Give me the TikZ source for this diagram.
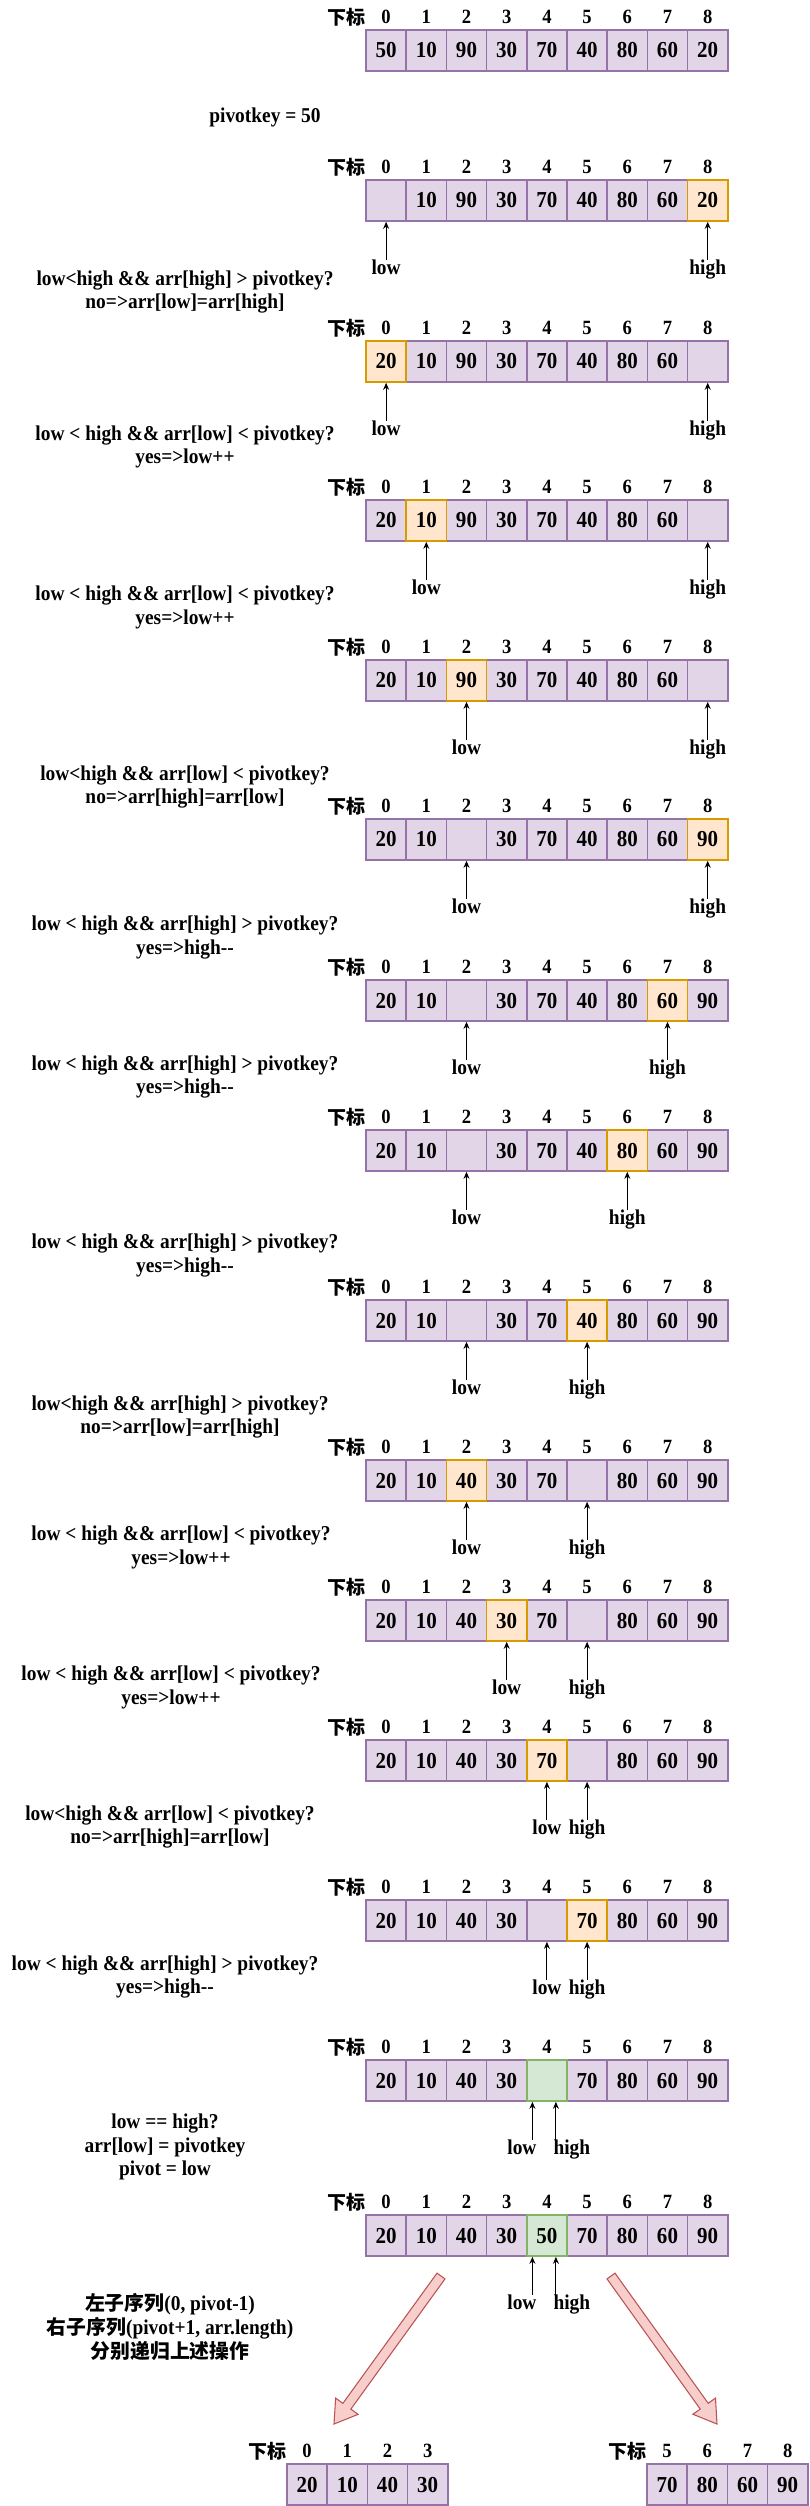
\documentclass[tikz,border=0pt]{standalone}
\usepackage{fontspec}
\setmainfont{Liberation Serif}[FakeStretch=0.92]
\newfontfamily\cjk{Noto Sans CJK SC}[Scale=0.94]
\usepackage{xcolor}
\usepackage{tikz}
\usetikzlibrary{arrows.meta, positioning, calc}

\definecolor{pfill}{HTML}{E1D5E7}
\definecolor{pdraw}{HTML}{9673A6}
\definecolor{ofill}{HTML}{FFE6CC}
\definecolor{odraw}{HTML}{D79B00}
\definecolor{gfill}{HTML}{D5E8D4}
\definecolor{gdraw}{HTML}{82B366}
\definecolor{rfill}{HTML}{F8CECC}
\definecolor{rdraw}{HTML}{B85450}

\tikzset{
  pcell/.style={draw=pdraw, fill=pfill, line width=0.9pt, minimum width=0.804cm,
    minimum height=0.82cm, inner sep=0pt, font=\fontsize{13}{15}\selectfont\bfseries},
  ocell/.style={pcell, draw=odraw, fill=ofill},
  gcell/.style={pcell, draw=gdraw, fill=gfill},
  idx/.style={inner sep=0pt, font=\fontsize{11.5}{13}\selectfont\bfseries},
  plabel/.style={inner sep=0pt, font=\fontsize{12}{14}\selectfont\bfseries},
  ptr/.style={line width=0.6pt, -{Stealth[length=4pt,width=3.4pt]}},
  note/.style={align=center, font=\fontsize{12}{13.6}\selectfont\bfseries},
  bigarr/.style={draw=rdraw, fill=rfill, line width=0.6pt},
}

% one array: name, left x, top y, first index, values, marked cell, its style
\newcommand{\sortrow}[7]{%
  \node[idx, anchor=east] (#1-xb) at (#2,#3-13) {\cjk 下标};
  \foreach \v [count=\ci from 0] in {#5} {
    \node[idx] (#1-i\ci) at (#2+20.1+40.2*\ci,#3-13) {\the\numexpr\ci+#4\relax};
    \ifnum\ci=#6\relax\else\node[pcell] (#1-\ci) at (#2+20.1+40.2*\ci,#3+20.5) {\v};\fi
  }
  \foreach \v [count=\ci from 0] in {#5} {
    \ifnum\ci=#6\relax\node[#7] (#1-\ci) at (#2+20.1+40.2*\ci,#3+20.5) {\v};\fi
  }
}
% low / high pointers under two cells
\newcommand{\ptrs}[3]{%
  \node[plabel, below=0.76cm of #1-#2] (#1-lo) {low};
  \node[plabel, below=0.76cm of #1-#3] (#1-hi) {high};
  \draw[ptr] (#1-lo) -- (#1-#2);
  \draw[ptr] (#1-hi) -- (#1-#3);
}

\begin{document}
\begin{tikzpicture}[x=0.02cm, y=-0.02cm]
\useasboundingbox (0,0) rectangle (809,2506);

% Start
\sortrow{r0}{366}{29.8}{0}{50,10,90,30,70,40,80,60,20}{-1}{pcell}
\node[note] (s0) at (265,117) {pivotkey = 50};

% Pasul 1
\sortrow{r1}{366}{180}{0}{{},10,90,30,70,40,80,60,20}{8}{ocell}
\ptrs{r1}{0}{8}
\node[note] (s1) at (185,292) {low<high \&\& arr[high] > pivotkey?\\no=>arr[low]=arr[high]};

% Pasul 2
\sortrow{r2}{366}{341}{0}{20,10,90,30,70,40,80,60,{}}{0}{ocell}
\ptrs{r2}{0}{8}
\node[note] (s2) at (185,447) {low < high \&\& arr[low] < pivotkey?\\yes=>low++};

% Pasul 3
\sortrow{r3}{366}{500}{0}{20,10,90,30,70,40,80,60,{}}{1}{ocell}
\ptrs{r3}{1}{8}
\node[note] (s3) at (185,607) {low < high \&\& arr[low] < pivotkey?\\yes=>low++};

% Pasul 4
\sortrow{r4}{366}{660}{0}{20,10,90,30,70,40,80,60,{}}{2}{ocell}
\ptrs{r4}{2}{8}
\node[note] (s4) at (185,787) {low<high \&\& arr[low] < pivotkey?\\no=>arr[high]=arr[low]};

% Pasul 5
\sortrow{r5}{366}{819}{0}{20,10,{},30,70,40,80,60,90}{8}{ocell}
\ptrs{r5}{2}{8}
\node[note] (s5) at (185,937.5) {low < high \&\& arr[high] > pivotkey?\\yes=>high-{}-};

% Pasul 6
\sortrow{r6}{366}{980}{0}{20,10,{},30,70,40,80,60,90}{7}{ocell}
\ptrs{r6}{2}{7}
\node[note] (s6) at (185,1077) {low < high \&\& arr[high] > pivotkey?\\yes=>high-{}-};

% Pasul 7
\sortrow{r7}{366}{1130}{0}{20,10,{},30,70,40,80,60,90}{6}{ocell}
\ptrs{r7}{2}{6}
\node[note] (s7) at (185,1255.5) {low < high \&\& arr[high] > pivotkey?\\yes=>high-{}-};

% Pasul 8
\sortrow{r8}{366}{1300}{0}{20,10,{},30,70,40,80,60,90}{5}{ocell}
\ptrs{r8}{2}{5}
\node[note] (s8) at (180,1417) {low<high \&\& arr[high] > pivotkey?\\no=>arr[low]=arr[high]};

% Pasul 9
\sortrow{r9}{366}{1460}{0}{20,10,40,30,70,{},80,60,90}{2}{ocell}
\ptrs{r9}{2}{5}
\node[note] (s9) at (181,1547) {low < high \&\& arr[low] < pivotkey?\\yes=>low++};

% Pasul 10
\sortrow{r10}{366}{1600}{0}{20,10,40,30,70,{},80,60,90}{3}{ocell}
\ptrs{r10}{3}{5}
\node[note] (s10) at (171,1687) {low < high \&\& arr[low] < pivotkey?\\yes=>low++};

% Pasul 11
\sortrow{r11}{366}{1740}{0}{20,10,40,30,70,{},80,60,90}{4}{ocell}
\ptrs{r11}{4}{5}
\node[note] (s11) at (170,1827) {low<high \&\& arr[low] < pivotkey?\\no=>arr[high]=arr[low]};

% Pasul 12
\sortrow{r12}{366}{1900}{0}{20,10,40,30,{},70,80,60,90}{5}{ocell}
\ptrs{r12}{4}{5}
\node[note] (s12) at (165,1977) {low < high \&\& arr[high] > pivotkey?\\yes=>high-{}-};

% low == high
\sortrow{r13}{366}{2060}{0}{20,10,40,30,{},70,80,60,90}{4}{gcell}
\node[plabel, below=0.76cm of r13-4, xshift=-0.5cm] (r13-lo) {low};
\node[plabel, below=0.76cm of r13-4, xshift=0.5cm] (r13-hi) {high};
\draw[ptr] ([xshift=0.21cm]r13-lo.north) -- ([xshift=0.21cm]r13-lo.north |- r13-4.south);
\draw[ptr] ([xshift=-0.32cm]r13-hi.north) -- ([xshift=-0.32cm]r13-hi.north |- r13-4.south);
\node[note] (s13) at (165,2147) {low == high?\\arr[low] = pivotkey\\pivot = low};

% Pivot gesetzt
\sortrow{r14}{366}{2215}{0}{20,10,40,30,50,70,80,60,90}{4}{gcell}
\node[plabel, below=0.76cm of r14-4, xshift=-0.5cm] (r14-lo) {low};
\node[plabel, below=0.76cm of r14-4, xshift=0.5cm] (r14-hi) {high};
\draw[ptr] ([xshift=0.21cm]r14-lo.north) -- ([xshift=0.21cm]r14-lo.north |- r14-4.south);
\draw[ptr] ([xshift=-0.32cm]r14-hi.north) -- ([xshift=-0.32cm]r14-hi.north |- r14-4.south);
\node[note] (s14) at (170,2327) {{\cjk 左子序列}(0, pivot-1)\\{\cjk 右子序列}(pivot+1, arr.length)\\{\cjk 分别递归上述操作}};

% Recursie
\coordinate (l-t) at (441,2276);
\coordinate (l-p) at (334,2424);
\coordinate (r-t) at (611,2276);
\coordinate (r-p) at (717,2424);
\foreach \s in {l,r} {
  \coordinate (\s-b) at ($(\s-p)!12.5pt!(\s-t)$);
  \draw[bigarr] ($(\s-t)!2.8pt!90:(\s-p)$) -- ($(\s-b)!2.8pt!-90:(\s-t)$)
    -- ($(\s-b)!7.9pt!-90:(\s-t)$) -- (\s-p) -- ($(\s-b)!7.9pt!90:(\s-t)$)
    -- ($(\s-b)!2.8pt!90:(\s-t)$) -- ($(\s-t)!2.8pt!-90:(\s-p)$) -- cycle;
}
\sortrow{sl}{287}{2464}{0}{20,10,40,30}{-1}{pcell}
\sortrow{sr}{647}{2464}{5}{70,80,60,90}{-1}{pcell}

\end{tikzpicture}
\end{document}
